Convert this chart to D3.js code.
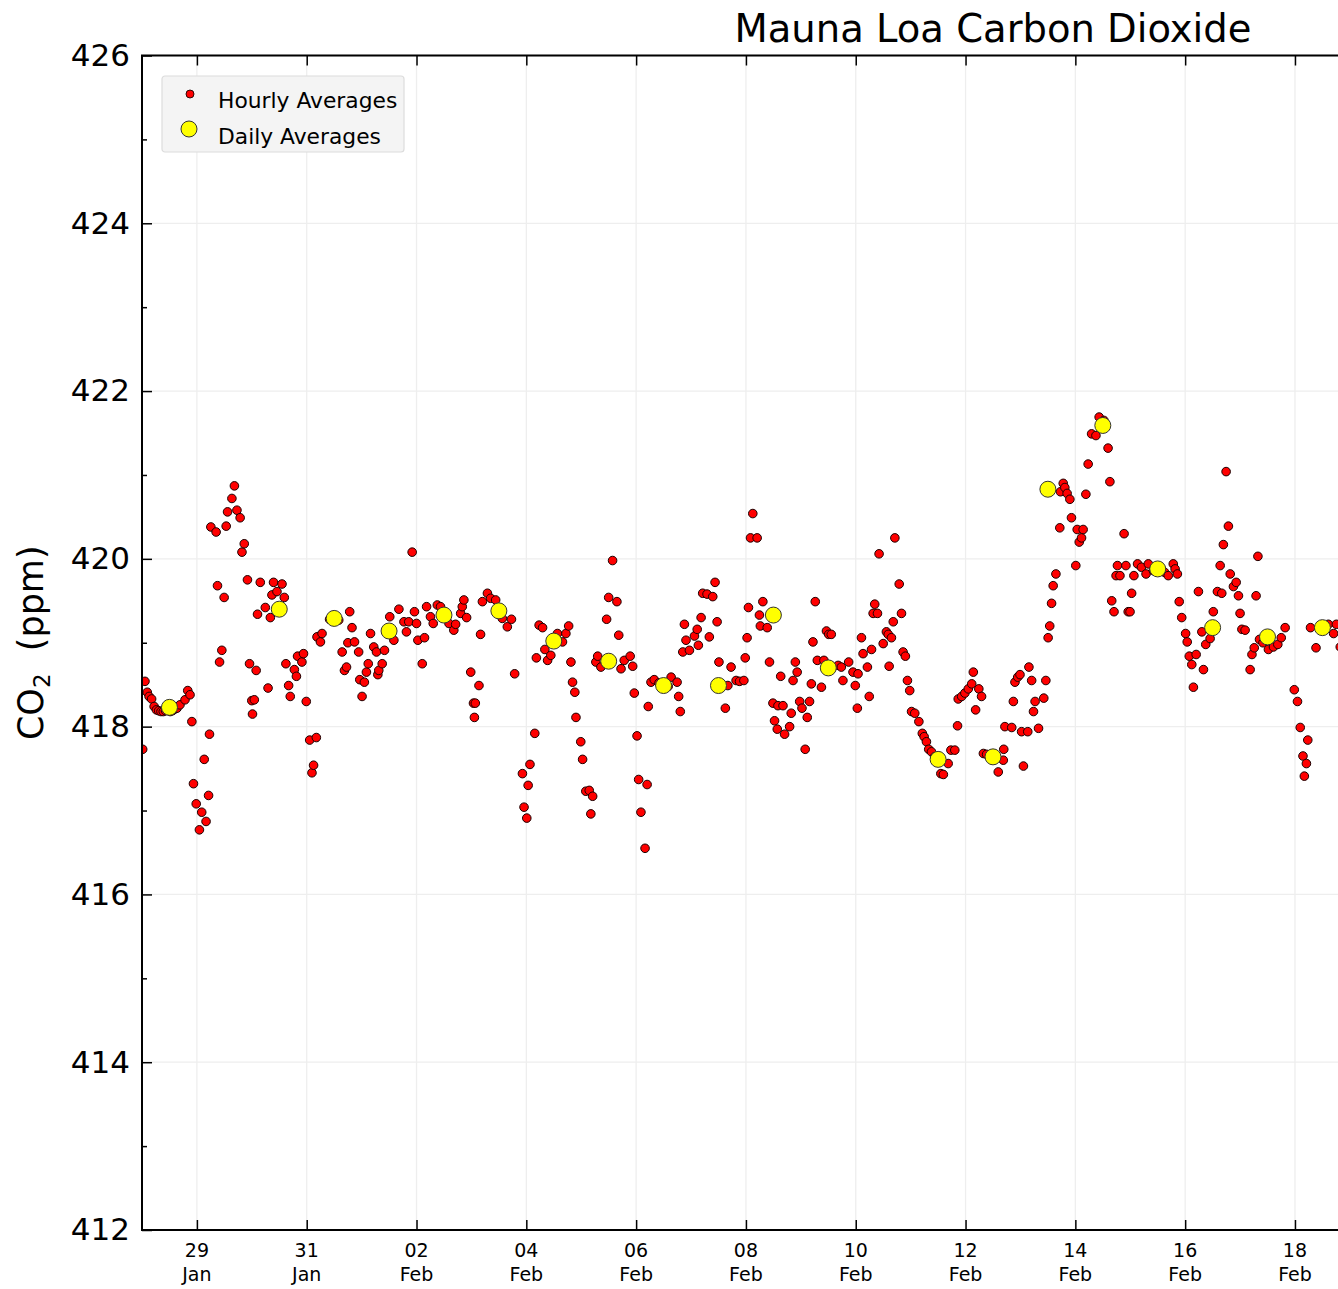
<!DOCTYPE html>
<html>
<head>
<meta charset="utf-8">
<script src="https://cdn.jsdelivr.net/npm/d3@7"></script>
<style>
  body { margin: 0; background: #fff; }
  svg { display: block; }
  text { font-family: "DejaVu Sans", sans-serif; fill: #000; }
</style>
</head>
<body>
<svg id="chart" width="1338" height="1289"></svg>
<script>
// hourly readings: [hours since 28 Jan 00:00 UTC, ppm]
const startDate = new Date(Date.UTC(2023, 0, 28));
const endDate = new Date(Date.UTC(2023, 1, 28));

const hourly = [
  [0.3,417.73],[1.3,418.54],[2.3,418.41],[3.1,418.36],[4.2,418.33],[5.3,418.24],[6.3,418.20],[7.3,418.19],[8.3,418.18],[9.3,418.18],[10.3,418.19],[11.3,418.20],[12.3,418.18],[13.3,418.19],[14.3,418.21],[15.3,418.22],[16.6,418.26],[18.8,418.32],[20.0,418.43],[21.0,418.38],[21.8,418.06],[22.5,417.32],[23.7,417.08],
  [25.1,416.77],[26.1,416.98],[27.2,417.61],[28.0,416.87],[29.1,417.18],[29.5,417.91],[30.1,420.38],[32.4,420.32],[33.0,419.68],[33.9,418.77],[34.9,418.91],[35.9,419.54],[36.8,420.39],[37.4,420.56],[39.3,420.72],[40.4,420.87],[41.5,420.58],[42.9,420.49],[43.7,420.08],[44.7,420.18],[46.1,419.75],[47.0,418.75],
  [48.0,418.31],[48.3,418.15],[49.1,418.32],[49.9,418.67],[50.5,419.34],[51.7,419.72],[53.9,419.42],[55.1,418.46],[56.1,419.30],[56.8,419.57],[57.5,419.72],[59.0,419.61],[61.2,419.70],[62.2,419.54],[62.9,418.75],[64.1,418.49],[64.8,418.36],[66.6,418.68],[67.5,418.60],[68.0,418.84],[69.9,418.77],[70.6,418.87],[71.8,418.30],
  [73.3,417.84],[74.3,417.45],[75.0,417.54],[76.2,417.87],[76.5,419.07],[78.0,419.01],[78.7,419.11],[82.0,419.28],[83.0,419.30],[84.0,419.32],[85.0,419.30],[86.0,419.27],[87.5,418.89],[88.5,418.67],[89.4,418.71],[90.0,419.00],[90.8,419.37],[91.8,419.18],[92.9,419.01],[94.7,418.89],[95.2,418.56],
  [96.2,418.36],[97.2,418.53],[98.1,418.65],[98.9,418.75],[99.9,419.11],[101.3,418.95],[102.5,418.89],[103.1,418.62],[103.5,418.67],[105.0,418.75],[106.0,418.91],[108.3,419.31],[110.1,419.03],[112.3,419.40],[114.5,419.25],[115.6,419.13],[116.6,419.25],[118.1,420.08],[119.1,419.37],
  [120.0,419.23],[120.6,419.03],[122.5,418.75],[123.5,419.06],[124.4,419.43],[126.1,419.31],[127.3,419.23],[129.1,419.45],[130.5,419.43],[134.2,419.23],[136.3,419.15],[137.1,419.22],[139.3,419.35],[140.0,419.43],[140.7,419.51],[141.9,419.30],[143.7,418.65],
  [144.9,418.28],[145.3,418.11],[145.7,418.28],[147.3,418.49],[148.0,419.10],[148.8,419.49],[151.0,419.59],[152.4,419.53],[154.6,419.51],[157.5,419.29],[159.7,419.19],[161.5,419.28],[162.9,418.63],[166.3,417.44],[167.0,417.04],
  [168.2,416.91],[168.8,417.30],[169.6,417.55],[171.7,417.92],[172.4,418.82],[173.6,419.21],[175.1,419.18],[176.1,418.92],[177.3,418.79],[178.7,418.85],[181.6,419.11],[183.8,419.01],[185.3,419.11],[186.5,419.20],[187.5,418.77],[188.2,418.53],[189.2,418.41],[189.7,418.11],[191.8,417.82],
  [192.6,417.61],[194.0,417.23],[195.5,417.24],[196.2,416.96],[197.0,417.17],[198.4,418.77],[199.2,418.84],[200.6,418.71],[203.1,419.28],[204.0,419.54],[205.7,419.98],[207.6,419.49],[208.4,419.09],[209.4,418.69],[210.8,418.79],[213.4,418.84],[214.5,418.72],
  [215.2,418.40],[216.4,417.89],[217.1,417.37],[218.1,416.98],[219.9,416.55],[220.8,417.31],[221.3,418.24],[222.5,418.53],[223.9,418.56],[226.0,418.52],[228.5,418.50],[230.0,418.48],[231.3,418.59],[233.9,418.53],[234.6,418.36],[235.3,418.18],[236.4,418.89],[237.1,419.22],[237.8,419.03],[239.3,418.91],
  [241.5,419.08],[242.7,419.16],[243.2,418.97],[244.4,419.30],[245.1,419.59],[247.0,419.58],[248.0,419.07],[249.5,419.55],[250.5,419.72],[251.4,419.25],[252.2,418.77],[255.0,418.22],[256.1,418.49],[257.5,418.71],[259.7,418.55],[261.2,418.54],[263.1,418.55],
  [263.7,418.82],[264.5,419.06],[265.1,419.42],[266.0,420.25],[267.0,420.54],[268.9,420.25],[269.9,419.33],[270.3,419.20],[271.4,419.49],[273.3,419.18],[274.3,418.77],[275.8,418.28],[276.5,418.07],[277.7,417.97],[278.0,418.25],[279.2,418.60],[280.2,418.25],[280.9,417.91],
  [283.1,418.00],[283.8,418.16],[284.6,418.55],[285.6,418.77],[286.4,418.65],[287.5,418.30],[288.5,418.22],[289.9,417.73],[290.8,418.11],[291.8,418.30],[292.6,418.51],[293.3,419.01],[294.3,419.49],[295.2,418.79],[297.0,418.47],[298.1,418.79],[299.2,419.14],[300.2,419.10],[301.3,419.10],
  [304.3,418.73],[305.7,418.71],[306.4,418.55],[308.9,418.77],[310.8,418.65],[311.8,418.49],[312.7,418.22],[313.0,418.63],[314.5,419.06],[315.2,418.87],[317.1,418.71],[317.9,418.36],[318.9,418.92],[319.6,419.35],[320.3,419.46],[321.5,419.35],[322.2,420.06],[324.0,418.99],
  [325.4,419.13],[326.2,419.10],[326.6,418.72],[327.6,419.06],[328.4,419.25],[329.1,420.25],[331.0,419.70],[332.0,419.35],[332.7,418.89],[333.7,418.84],[334.6,418.55],[335.6,418.43],[336.4,418.18],[337.8,418.16],[339.6,418.06],[341.1,417.92],[341.9,417.88],[342.9,417.82],[343.9,417.73],
  [345.1,417.70],[346.5,417.64],[349.2,417.44],[350.3,417.43],[352.4,417.56],[353.6,417.72],[355.3,417.72],[356.5,418.01],[356.8,418.33],[358.3,418.36],[359.7,418.40],[361.2,418.45],[362.7,418.51],[363.4,418.65],[364.4,418.20],[365.8,418.45],[367.0,418.36],[367.8,417.68],[369.2,417.67],
  [374.3,417.46],[376.5,417.60],[376.7,417.73],[377.2,418.00],[380.2,417.99],[380.9,418.30],[381.6,418.53],[382.8,418.59],[383.8,418.62],[384.5,417.94],[385.3,417.53],[387.2,417.94],[387.7,418.71],[388.9,418.55],[389.7,418.18],[390.4,418.30],[391.9,417.98],[394.2,418.34],[395.1,418.55],
  [396.1,419.06],[396.8,419.20],[397.6,419.47],[398.3,419.68],[399.5,419.82],[401.2,420.37],[401.5,420.80],[402.7,420.90],[403.4,420.85],[404.4,420.78],[405.6,420.71],[406.3,420.49],[408.2,419.92],[408.8,420.35],[409.7,420.20],[410.7,420.25],[411.4,420.35],[412.6,420.77],[413.6,421.13],
  [415.1,421.49],[417.0,421.47],[418.4,421.69],[419.6,421.62],[420.5,421.65],[422.3,421.32],[423.1,420.92],[423.9,419.50],[424.9,419.37],[425.8,419.80],[426.4,419.92],[427.5,419.80],[429.3,420.30],[430.1,419.92],[431.1,419.37],[431.9,419.37],[432.6,419.59],[433.6,419.80],
  [435.2,419.94],[436.9,419.90],[438.9,419.82],[439.9,419.94],[442.1,419.86],[445.5,419.88],[447.0,419.84],[448.6,419.80],[450.8,419.94],[451.6,419.88],[452.6,419.82],[453.4,419.49],[454.5,419.30],[456.2,419.11],[456.9,419.01],[457.8,418.84],[458.9,418.74],[459.6,418.47],[460.8,418.86],
  [461.8,419.61],[463.3,419.13],[464.0,418.68],[465.0,418.98],[466.9,419.05],[468.3,419.37],[470.1,419.61],[471.3,419.92],[472.0,419.59],[472.7,420.17],[473.9,421.04],[474.9,420.39],[475.7,419.82],[477.1,419.67],[478.3,419.72],[479.3,419.56],[480.0,419.35],[480.8,419.16],[482.2,419.15],
  [484.4,418.68],[485.2,418.86],[486.2,418.94],[487.0,419.56],[487.8,420.03],[488.5,419.04],[490.0,419.00],[492.4,418.92],[494.6,418.95],[496.5,418.98],[498.0,419.06],[499.7,419.18],[503.7,418.44],[505.1,418.30],[506.3,417.99],[507.5,417.65],[508.1,417.41],[509.0,417.56],[509.6,417.84],
  [510.8,419.18],[513.2,418.94],[515.1,419.18],[516.8,419.20],[518.6,419.22],[520.9,419.11],[522.1,419.22],[523.8,418.95]
];

// daily means, plotted at noon
const dailyDates = ["2023-01-28","2023-01-30","2023-01-31","2023-02-01","2023-02-02","2023-02-03","2023-02-04",
  "2023-02-05","2023-02-06","2023-02-07","2023-02-08","2023-02-09","2023-02-11","2023-02-12","2023-02-13",
  "2023-02-14","2023-02-15","2023-02-16","2023-02-17","2023-02-18"];
const dailyPpm = [418.23,419.40,419.29,419.14,419.33,419.38,419.02,418.78,418.49,418.49,419.33,418.70,
  417.61,417.64,420.83,421.59,419.88,419.18,419.07,419.18];

const yMajor = d3.range(412, 427, 2);
const yMinor = d3.range(413, 426, 2);
const legendItems = ["Hourly Averages", "Daily Averages"];
const title = "Mauna Loa Carbon Dioxide";

const W = 1338, H = 1289;
const margin = {left: 142, top: 55.5};
const plotW = 1702, plotH = 1174.5;

const svg = d3.select("#chart");

const x = d3.scaleUtc().domain([startDate, endDate]).range([margin.left, margin.left + plotW]);
const y = d3.scaleLinear().domain([412, 426]).range([margin.top + plotH, margin.top]);

const xTicks = d3.utcDay.range(new Date(Date.UTC(2023, 0, 29)), endDate, 2);
// only the dates that fall inside the visible part of the page get a label
const xLabelled = xTicks.filter(d => x(d) < W - 20);

svg.append("defs").append("clipPath").attr("id", "plot-clip")
  .append("rect")
  .attr("x", margin.left).attr("y", margin.top)
  .attr("width", plotW).attr("height", plotH);

// grid
const grid = svg.append("g").attr("stroke", "#eeeeee").attr("stroke-width", 1.3);
grid.selectAll("line.gx").data(xTicks).join("line")
  .attr("x1", d => x(d)).attr("x2", d => x(d))
  .attr("y1", margin.top).attr("y2", margin.top + plotH);
grid.selectAll("line.gy").data(yMajor).join("line")
  .attr("y1", d => y(d)).attr("y2", d => y(d))
  .attr("x1", margin.left).attr("x2", margin.left + plotW);

// points
const pts = svg.append("g").attr("clip-path", "url(#plot-clip)");
const hourTime = h => new Date(+startDate + h * 3600e3);

pts.selectAll("circle.hourly").data(hourly).join("circle")
  .attr("class", "hourly")
  .attr("cx", d => x(hourTime(d[0])))
  .attr("cy", d => y(d[1]))
  .attr("r", 4.3)
  .attr("fill", "#ff0000")
  .attr("stroke", "#1a0000")
  .attr("stroke-width", 1);

pts.selectAll("circle.daily").data(dailyDates.map((d, i) => [d, dailyPpm[i]])).join("circle")
  .attr("class", "daily")
  .attr("cx", d => x(new Date(d[0] + "T12:00:00Z")))
  .attr("cy", d => y(d[1]))
  .attr("r", 8)
  .attr("fill", "#ffff00")
  .attr("stroke", "#333")
  .attr("stroke-width", 1);

// axes (ticks pointing inward)
svg.append("g").attr("transform", `translate(0,${margin.top + plotH})`)
  .call(d3.axisBottom(x).tickValues(xTicks).tickSize(-10).tickSizeOuter(0).tickFormat(""));

const labels = svg.append("g").attr("font-size", 19).attr("text-anchor", "middle");
const lab = labels.selectAll("text").data(xLabelled).join("text")
  .attr("transform", d => `translate(${x(d)},${margin.top + plotH})`);
lab.append("tspan").attr("x", 0).attr("y", 27).text(d3.utcFormat("%d"));
lab.append("tspan").attr("x", 0).attr("y", 51).text(d3.utcFormat("%b"));

svg.append("g").attr("transform", `translate(0,${margin.top})`)
  .call(d3.axisTop(x).tickValues(xTicks).tickSize(-10).tickSizeOuter(0).tickFormat(""));

const left = svg.append("g").attr("transform", `translate(${margin.left},0)`)
  .call(d3.axisLeft(y).tickValues(yMajor).tickSize(-10).tickSizeOuter(0).tickPadding(12)
    .tickFormat(d3.format("d")));
left.selectAll(".tick text").attr("font-size", 31).attr("font-family", "DejaVu Sans");

svg.append("g").attr("transform", `translate(${margin.left},0)`)
  .call(d3.axisLeft(y).tickValues(yMinor).tickSize(-5).tickSizeOuter(0).tickFormat(""));

svg.append("g").attr("transform", `translate(${margin.left + plotW},0)`)
  .call(d3.axisRight(y).tickValues(yMajor).tickSize(-10).tickSizeOuter(0).tickFormat(""));

svg.selectAll(".domain").remove();
svg.selectAll(".tick line").attr("stroke", "#000").attr("stroke-width", 1.5);

// frame
svg.append("rect")
  .attr("x", margin.left).attr("y", margin.top)
  .attr("width", plotW).attr("height", plotH)
  .attr("fill", "none").attr("stroke", "#000").attr("stroke-width", 2);

// title
svg.append("text")
  .attr("x", margin.left + plotW / 2).attr("y", 42)
  .attr("text-anchor", "middle")
  .attr("font-size", 38.5)
  .text(title);

// y label
const yl = svg.append("text")
  .attr("transform", `translate(43,${margin.top + plotH / 2}) rotate(-90)`)
  .attr("text-anchor", "middle")
  .attr("font-size", 35);
yl.append("tspan").text("CO");
yl.append("tspan").attr("font-size", 23).attr("dy", 7).text("2");
yl.append("tspan").attr("dy", -7).text("\u00a0 (ppm)");

// legend
const lg = svg.append("g").attr("transform", "translate(162,76)");
lg.append("rect")
  .attr("width", 242).attr("height", 76).attr("rx", 3)
  .attr("fill", "#f4f4f4").attr("stroke", "#dcdcdc").attr("stroke-width", 1.2);
lg.append("circle").attr("cx", 28).attr("cy", 18).attr("r", 4)
  .attr("fill", "#ff0000").attr("stroke", "#1a0000").attr("stroke-width", 0.9);
lg.append("circle").attr("cx", 27).attr("cy", 53).attr("r", 8)
  .attr("fill", "#ffff00").attr("stroke", "#333").attr("stroke-width", 1);
lg.selectAll("text.leg").data(legendItems).join("text")
  .attr("x", 56).attr("y", (d, i) => 32 + i * 35.5)
  .attr("font-size", 21.8)
  .attr("fill", "#222")
  .text(d => d);
</script>
</body>
</html>
